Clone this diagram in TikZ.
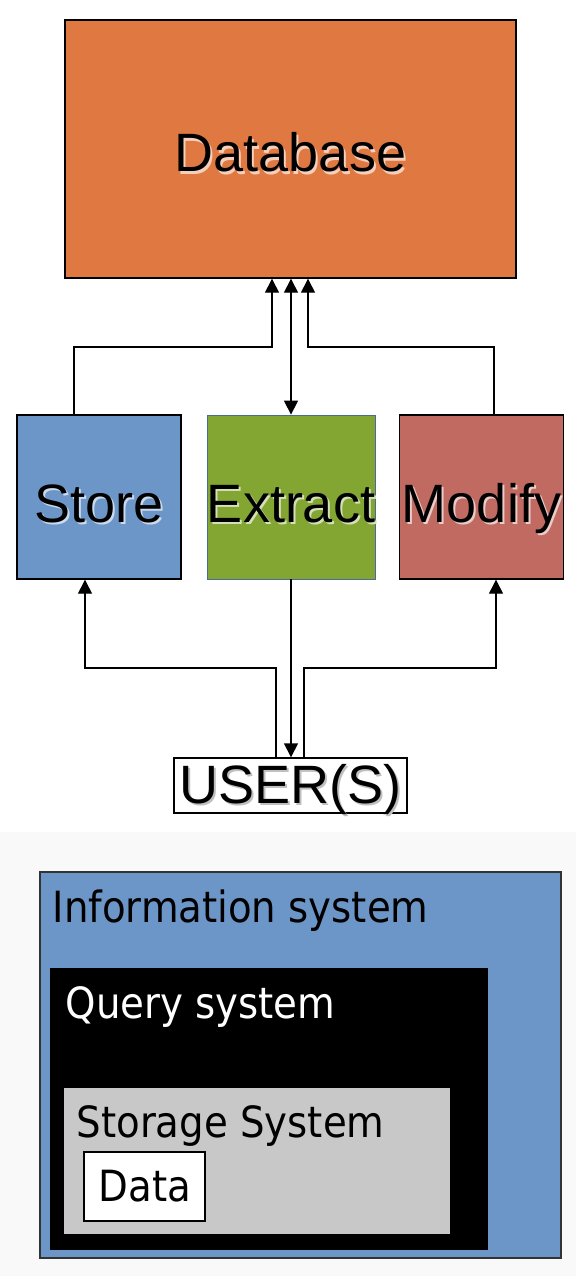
\documentclass[tikz,border=0pt]{standalone}
\usepackage{fontspec}
\setmainfont{Liberation Sans}
\newfontfamily\narrowsans{DejaVu Sans Condensed}
\usepackage{xcolor}
\usetikzlibrary{arrows.meta}
\definecolor{dbcol}{HTML}{E07841}
\definecolor{storecol}{HTML}{6C96C8}
\definecolor{extcol}{HTML}{83A632}
\definecolor{extline}{HTML}{4A6A9A}
\definecolor{modcol}{HTML}{C06A61}
\definecolor{stgcol}{HTML}{C8C8C8}
\definecolor{bgcol}{HTML}{F9F9F9}
\def \shtxt#1#2{\rlap{\hspace{2pt}\raisebox{-2.5pt}{\textcolor{#1}{#2}}}#2}
\tikzset{
  big/.style={font=\fontsize{54}{54}\selectfont, text height=50pt, text depth=0pt},
  box/.style={draw=black, line width=1.4pt, minimum width=164pt, minimum height=164pt, inner sep=0pt},
  lbl/.style={anchor=base west, inner sep=0pt, font=\narrowsans\fontsize{43}{43}\selectfont},
}

\begin{document}
\begin{tikzpicture}[line cap=butt,line join=miter,>={Triangle[length=14pt,width=14pt]},x=1pt,y=-1pt,line width=1.4pt]
\useasboundingbox (0,0) rectangle (576,1276);
% upper diagram
\node[box, big, fill=dbcol, minimum width=451pt, minimum height=258pt, text height=46pt] (db) at (290.5,149) {\shtxt{white!65!dbcol}{Database}};
\node[box, big, fill=storecol] (store) at (99,497) {\shtxt{white!65!storecol}{Store}};
\node[box, big, fill=extcol, draw=extline, line width=0.8pt] (ext) at (291,497) {\shtxt{white!65!extcol}{Extract}};
\node[box, big, fill=modcol] (mod) at (481.5,497) {\shtxt{white!65!modcol}{Modify}};
\node[box, big, fill=white, minimum width=233pt, minimum height=55pt, text height=35pt] (user) at (290.5,785.5) {\shtxt{black!25}{USER(S)}};
\coordinate (jl) at (272,347);
\coordinate (jr) at (308,347);
\coordinate (kl) at (276,668);
\coordinate (kr) at (304,668);
\draw[->] ([xshift=-25pt]store.north) |- (jl) -- (jl |- db.south);
\draw[<->] (ext.north |- db.south) -- (ext.north);
\draw[->] ([xshift=12.5pt]mod.north) |- (jr) -- (jr |- db.south);
\draw[->] (kl |- user.north) -- (kl) -| ([xshift=-14pt]store.south);
\draw[->] (ext.south) -- (ext.south |- user.north);
\draw[->] (kr |- user.north) -- (kr) -| ([xshift=14.5pt]mod.south);
% lower diagram
\fill[bgcol] (0,832) rectangle (576,1276);
\node[draw=black!80, line width=1.2pt, fill=storecol, minimum width=521pt, minimum height=386pt, inner sep=0pt] (info) at (300.5,1065) {};
\node[fill=black, minimum width=438pt, minimum height=282pt, inner sep=0pt] (query) at (269,1109) {};
\node[fill=stgcol, minimum width=386pt, minimum height=146pt, inner sep=0pt] (stg) at (257,1161) {};
\node[draw=black, fill=white, line width=1.4pt, minimum width=121pt, minimum height=69pt, inner sep=0pt] (data) at (144.5,1186.5) {};
\node[lbl] (infotxt) at (52,922) {Information system};
\node[lbl, text=white] (querytxt) at (65,1018) {Query system};
\node[lbl] (stgtxt) at (76,1137) {Storage System};
\node[lbl] (datatxt) at (98,1201) {Data};
\end{tikzpicture}
\end{document}
